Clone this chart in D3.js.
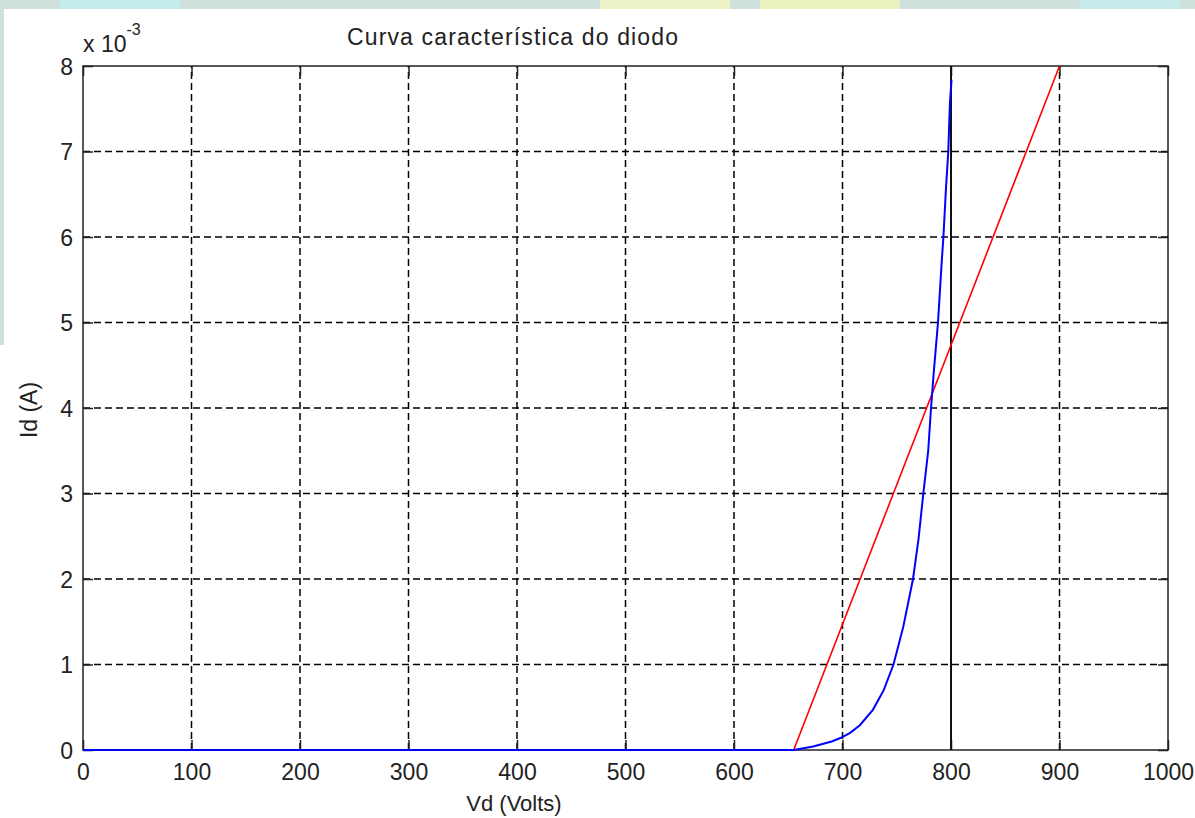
<!DOCTYPE html>
<html>
<head>
<meta charset="utf-8">
<script src="https://cdn.jsdelivr.net/npm/d3@7"></script>
<style>
  body { margin: 0; background: #fff; }
  svg { display: block; font-family: "Liberation Sans", Arial, sans-serif; }
</style>
</head>
<body>
<svg width="1195" height="818"></svg>
<script>
// diode curve (Vd in volts, Id in mA)
const diodeV = [0, 655, 673, 690, 698, 707, 716, 728, 738, 747, 756, 765, 770, 774.5, 779, 781.6, 784, 788, 791.4, 793, 795.5, 797.5, 799, 800.5];
const diodeI = [0, 0, 0.04, 0.1, 0.14, 0.2, 0.29, 0.47, 0.7, 1.0, 1.44, 2.0, 2.46, 3.0, 3.5, 4.0, 4.4, 5.0, 5.7, 6.0, 6.6, 7.0, 7.56, 7.84];
// load line
const loadV = [655, 900];
const loadI = [0, 8];
// vertical marker at 800 V
const markV = [800, 800];
const markI = [0, 8];

const xTicks = [0, 100, 200, 300, 400, 500, 600, 700, 800, 900, 1000];
const yTicks = [0, 1, 2, 3, 4, 5, 6, 7, 8];

const svg = d3.select("svg");

// watermark-ish background around the figure
svg.append("rect").attr("width", 1195).attr("height", 818).attr("fill", "#fff");
svg.append("rect").attr("x", 0).attr("y", 0).attr("width", 1195).attr("height", 9).attr("fill", "#cfe0dd");
svg.append("rect").attr("x", 0).attr("y", 0).attr("width", 4).attr("height", 345).attr("fill", "#cfe0dd");
[[60, 120, "#c4ecec"], [600, 130, "#eef3c8"], [760, 140, "#eaf2c0"], [1080, 100, "#c8eaea"]].forEach(d => {
  svg.append("rect").attr("x", d[0]).attr("y", 0).attr("width", d[1]).attr("height", 9).attr("fill", d[2]);
});

const x = d3.scaleLinear().domain([0, 1000]).range([83, 1168]);
const y = d3.scaleLinear().domain([0, 8]).range([750, 66]);

// grid
const grid = svg.append("g").attr("stroke", "#000").attr("stroke-width", 1.5).attr("stroke-dasharray", "7,4");
grid.selectAll(".gx").data(xTicks.slice(1, -1)).enter().append("line")
  .attr("x1", d => x(d)).attr("x2", d => x(d)).attr("y1", y(0)).attr("y2", y(8));
grid.selectAll(".gy").data(yTicks.slice(1, -1)).enter().append("line")
  .attr("y1", d => y(d)).attr("y2", d => y(d)).attr("x1", x(0)).attr("x2", x(1000));

// axes (box with inner ticks on all sides)
const tl = 10;
svg.append("g").attr("transform", `translate(0,${y(0)})`)
  .call(d3.axisBottom(x).tickValues(xTicks).tickSize(-tl).tickFormat(d3.format("d")))
  .call(g => g.select(".domain").remove())
  .call(g => g.selectAll("text").attr("dy", 0).attr("y", 30).attr("font-size", 23).attr("fill", "#222"));
svg.append("g").attr("transform", `translate(0,${y(8)})`)
  .call(d3.axisTop(x).tickValues(xTicks).tickSize(-tl).tickFormat(""))
  .call(g => g.select(".domain").remove());
svg.append("g").attr("transform", `translate(${x(0)},0)`)
  .call(d3.axisLeft(y).tickValues(yTicks).tickSize(-tl).tickFormat(d3.format("d")))
  .call(g => g.select(".domain").remove())
  .call(g => g.selectAll("text").attr("x", -10).attr("dy", "0.35em").attr("font-size", 23).attr("fill", "#222"));
svg.append("g").attr("transform", `translate(${x(1000)},0)`)
  .call(d3.axisRight(y).tickValues(yTicks).tickSize(-tl).tickFormat(""))
  .call(g => g.select(".domain").remove());
svg.selectAll(".tick line").attr("stroke", "#222").attr("stroke-width", 1.5);

svg.append("rect").attr("x", x(0)).attr("y", y(8)).attr("width", x(1000) - x(0)).attr("height", y(0) - y(8))
  .attr("fill", "none").attr("stroke", "#222").attr("stroke-width", 1.5);

// series
const line = d3.line().x(d => x(d[0])).y(d => y(d[1]));
svg.append("path").datum(d3.zip(markV, markI)).attr("d", line)
  .attr("fill", "none").attr("stroke", "#111").attr("stroke-width", 2);
svg.append("path").datum(d3.zip(loadV, loadI)).attr("d", line)
  .attr("fill", "none").attr("stroke", "#ff0000").attr("stroke-width", 1.6);
svg.append("path").datum(d3.zip(diodeV, diodeI)).attr("d", line)
  .attr("fill", "none").attr("stroke", "#0000ff").attr("stroke-width", 2);

// texts
svg.append("text").attr("x", 347).attr("y", 45).attr("font-size", 23).attr("fill", "#222")
  .attr("textLength", 331).text("Curva característica do diodo");
const ex = svg.append("text").attr("x", 83).attr("y", 52).attr("font-size", 23).attr("fill", "#222");
ex.append("tspan").text("x 10");
ex.append("tspan").attr("font-size", 16).attr("dy", -17).text("-3");
svg.append("text").attr("x", 514).attr("y", 811).attr("text-anchor", "middle").attr("font-size", 22).attr("fill", "#222")
  .text("Vd (Volts)");
svg.append("text").attr("transform", "translate(37,410) rotate(-90)").attr("text-anchor", "middle")
  .attr("font-size", 23).attr("fill", "#222").text("Id (A)");
</script>
</body>
</html>
